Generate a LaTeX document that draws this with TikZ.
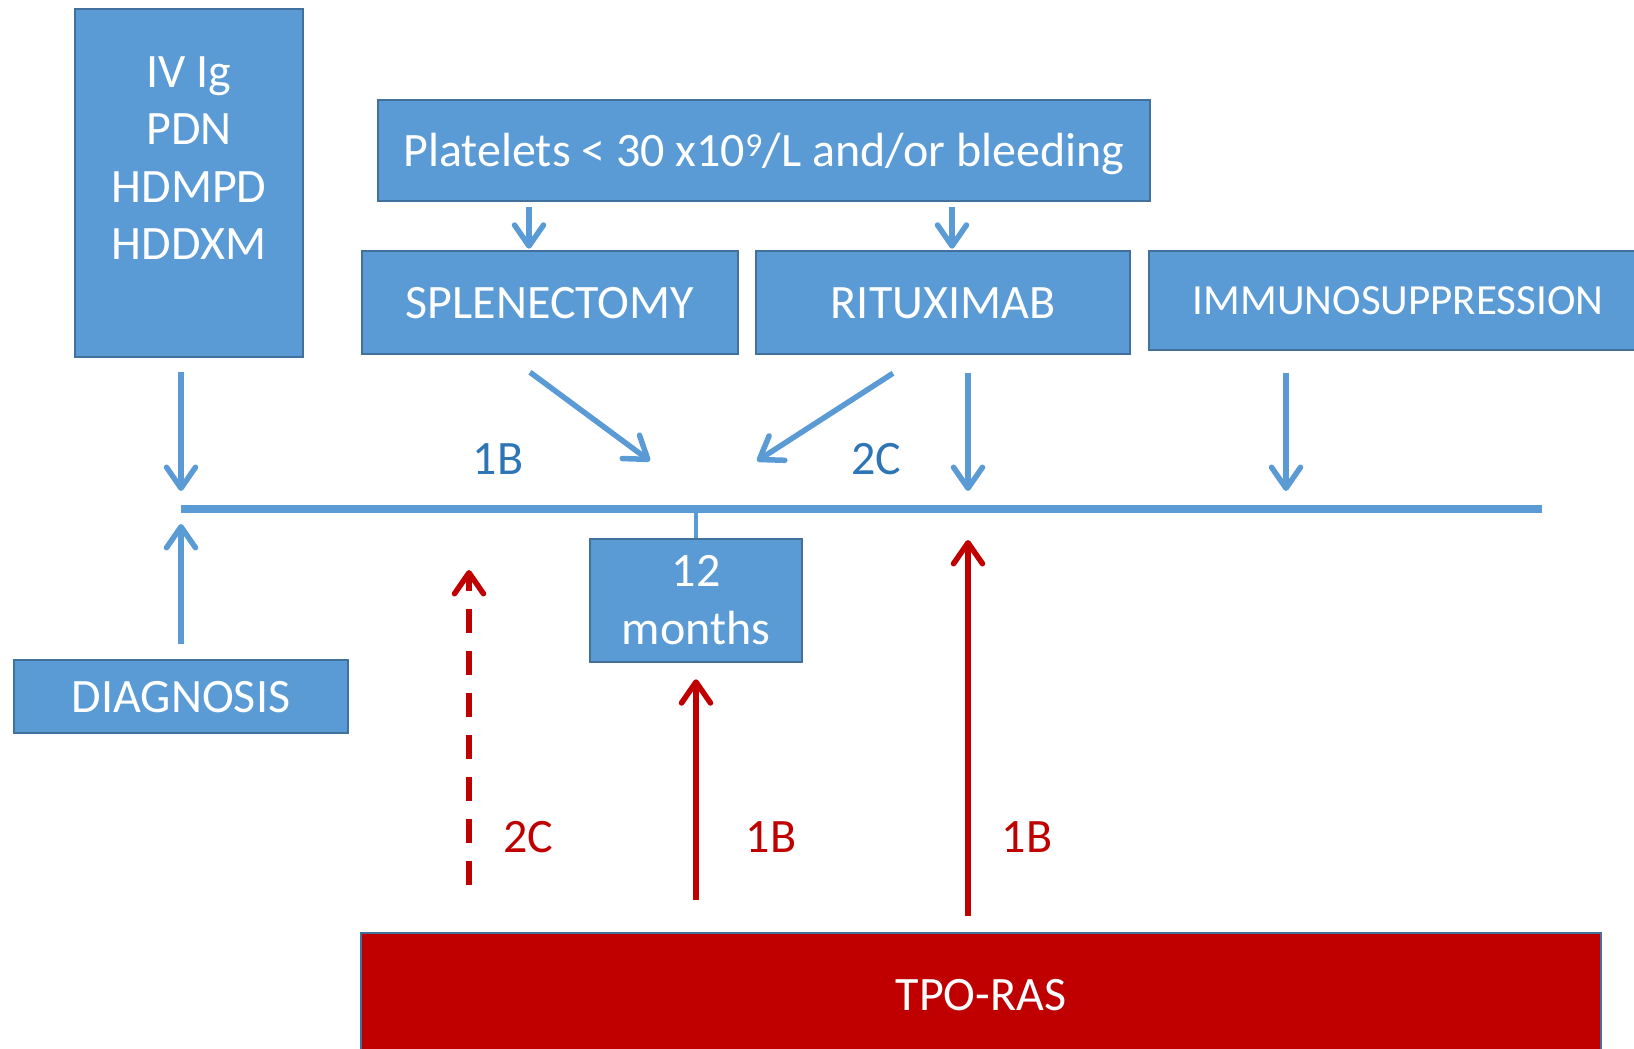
\documentclass[tikz,border=0pt]{standalone}
\usepackage{fontspec}
\setmainfont{Carlito}
\usetikzlibrary{arrows.meta}
\definecolor{boxblue}{HTML}{5B9BD5}
\definecolor{boxedge}{HTML}{41719C}
\definecolor{lblblue}{HTML}{2E75B6}
\definecolor{tpored}{HTML}{C00000}
\newcommand{\boxfont}{\fontsize{48}{57.5}\selectfont}
\newcommand{\smallboxfont}{\fontsize{43}{50}\selectfont}
\tikzset{
  bluebox/.style={draw=boxedge, fill=boxblue, line width=2.5pt, text=white, inner sep=0pt, font=\boxfont, align=center},
  oneline/.style={text height=31pt, text depth=0pt},
  barrow/.style={draw=boxblue, line width=5.5pt, -{Straight Barb[length=21pt,width=29pt,round]}},
  rarrow/.style={draw=tpored, line width=5.5pt, -{Straight Barb[length=21pt,width=29pt,round]}},
  grade/.style={font=\boxfont, inner sep=0pt},
}
\begin{document}
\begin{tikzpicture}[x=1pt,y=-1pt]
        \useasboundingbox (0,0) rectangle (1634,1049);
        \clip (0,0) rectangle (1634,1049);
        % boxes
        \node[bluebox, minimum width=228pt, minimum height=348pt] (ivig) at (189,183) {};
        \node[font=\boxfont, text=white, align=center] (ivigtxt) at (189,158) {IV Ig\\PDN\\HDMPD\\HDDXM};
        \node[bluebox, oneline, minimum width=772pt, minimum height=101pt] (plt) at (764,150.5) {Platelets < 30 x10\textsuperscript{9}/L and/or bleeding};
        \node[bluebox, oneline, minimum width=376pt, minimum height=103pt] (splen) at (550,302.5) {SPLENECTOMY};
        \node[bluebox, oneline, minimum width=374pt, minimum height=103pt] (ritux) at (943,302.5) {RITUXIMAB};
        \node[bluebox, oneline, text height=27.7pt, minimum width=498pt, minimum height=99pt, font=\smallboxfont] (immuno) at (1398,300.5) {IMMUNOSUPPRESSION};
        \node[bluebox, oneline, minimum width=334pt, minimum height=73pt] (diag) at (181,696.5) {DIAGNOSIS};
        \node[bluebox, minimum width=212pt, minimum height=123pt, font=\fontsize{48}{58}\selectfont] (months) at (696,600.5) {12\\months};
        \node[draw=boxedge, fill=tpored, line width=2pt, text=white, font=\boxfont, oneline, minimum width=1240pt, minimum height=124pt] (tpo) at (981,995) {TPO-RAS};
        % time line
        \coordinate (tlIvig) at (181,509);
        \coordinate (tlEnd) at (1542,509);
        \coordinate (tlRitux) at (968,509);
        \coordinate (tlImmuno) at (1286,509);
        \coordinate (splenhit) at (650,461);
        \coordinate (rituxhit) at (757,461);
        \coordinate (dashtop) at (469,570);
        \draw[boxblue, line width=8pt] (tlIvig) -- (tlEnd);
        \draw[boxblue, line width=4pt] (months.north |- tlIvig) -- (months.north);
        % blue arrows
        \draw[barrow] ([shift={(-235,5)}]plt.south) -- ([shift={(-21,-1)}]splen.north);
        \draw[barrow] ([shift={(188,5)}]plt.south) -- ([shift={(9,-1)}]ritux.north);
        \draw[barrow, shorten >=18pt] ([shift={(-8,14)}]ivig.south) -- (tlIvig);
        \draw[barrow] ([shift={(-20,17)}]splen.south) -- (splenhit);
        \draw[barrow] ([shift={(-50,18)}]ritux.south) -- (rituxhit);
        \draw[barrow, shorten >=18pt] ([shift={(25,18)}]ritux.south) -- (tlRitux);
        \draw[barrow, shorten >=18pt] ([shift={(-112,22)}]immuno.south) -- (tlImmuno);
        \draw[barrow, shorten <=15pt, shorten >=15pt] (diag.north) -- (tlIvig);
        % red arrows
        \draw[rarrow, dash pattern=on 24pt off 18pt] ([shift={(-512,-47)}]tpo.north) -- (dashtop);
        \draw[rarrow, shorten >=16pt] ([shift={(-285,-32)}]tpo.north) -- (months.south);
        \draw[rarrow, shorten >=31pt] ([shift={(-13,-16)}]tpo.north) -- (tlRitux);
        % grades
        \node[grade, text=lblblue] (g1) at (498,459) {1B};
        \node[grade, text=lblblue] (g2) at (876,459) {2C};
        \node[grade, text=tpored] (g3) at (528,837) {2C};
        \node[grade, text=tpored] (g4) at (771,837) {1B};
        \node[grade, text=tpored] (g5) at (1027,837) {1B};
\end{tikzpicture}
\end{document}
